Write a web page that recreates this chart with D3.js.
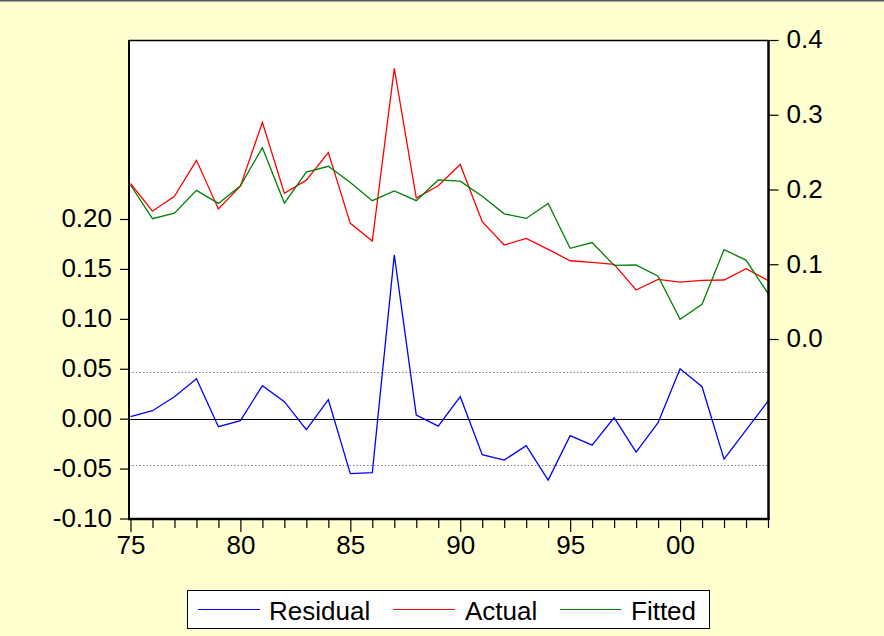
<!DOCTYPE html>
<html>
<head>
<meta charset="utf-8">
<script src="https://cdn.jsdelivr.net/npm/d3@7"></script>
<style>
  html, body { margin: 0; padding: 0; background: #FFFFD0; }
  svg { display: block; }
  text { font-family: "Liberation Sans", Arial, sans-serif; }
</style>
</head>
<body>
<svg id="chart" width="884" height="636"></svg>
<script>
// ---- Data ----
const years = d3.range(1975, 2005);
const residual = [0.002, 0.008, 0.022, 0.040, -0.008, -0.002, 0.033, 0.017, -0.011, 0.019,
                  -0.055, -0.054, 0.164, 0.0035, -0.0075, 0.022, -0.036, -0.0415, -0.027, -0.0615,
                  -0.017, -0.0265, 0.001, -0.0335, -0.004, 0.050, 0.032, -0.0405, -0.0115, 0.0175];
const actual = [0.208, 0.171, 0.191, 0.239, 0.174, 0.2045, 0.290, 0.195, 0.2125, 0.2495,
                0.1547, 0.131, 0.362, 0.1885, 0.205, 0.2335, 0.157, 0.1257, 0.1346, 0.120,
                0.1047, 0.1025, 0.0998, 0.0655, 0.0798, 0.0762, 0.0784, 0.0789, 0.094, 0.0784];
const fitted = [0.206, 0.161, 0.1684, 0.1988, 0.1814, 0.205, 0.256, 0.1818, 0.2233, 0.231,
                0.2095, 0.185, 0.198, 0.185, 0.2128, 0.2112, 0.191, 0.1675, 0.1613, 0.1813,
                0.1213, 0.129, 0.0985, 0.099, 0.084, 0.0265, 0.0464, 0.1195, 0.1056, 0.061];
const stdErr = 0.0466;
const leftTicks = [-0.10, -0.05, 0.00, 0.05, 0.10, 0.15, 0.20];
const rightTicks = [0.0, 0.1, 0.2, 0.3, 0.4];
const majorYears = [1975, 1980, 1985, 1990, 1995, 2000];
const xTickLabels = ["75", "80", "85", "90", "95", "00"];
const seriesNames = ["Residual", "Actual", "Fitted"];
const seriesColors = ["#0000FF", "#FF0000", "#008000"];

// ---- Layout ----
const svg = d3.select("#chart");
const W = 884, H = 636;
const plot = { left: 129, right: 768.5, top: 40, bottom: 519 };
const FS = 26;

svg.append("rect").attr("width", W).attr("height", H).attr("fill", "#FFFFD0");
svg.append("rect").attr("x", 0).attr("y", 0).attr("width", W).attr("height", 1).attr("fill", "#555");
svg.append("rect").attr("x", 0).attr("y", 1).attr("width", W).attr("height", 1).attr("fill", "#aaa");

const x = d3.scaleLinear().domain([1975, 2004]).range([130.5, 768]);
const yL = d3.scaleLinear().domain([-0.10, 0.20]).range([518.5, 219]);
const yR = d3.scaleLinear().domain([0.0, 0.4]).range([339, 40]);

// plot background
svg.append("rect")
  .attr("x", plot.left).attr("y", plot.top)
  .attr("width", plot.right - plot.left).attr("height", plot.bottom - plot.top)
  .attr("fill", "#FFFFFF");

// std error dotted lines and zero line
[stdErr, -stdErr].forEach(v => {
  svg.append("line")
    .attr("x1", plot.left).attr("x2", plot.right)
    .attr("y1", Math.round(yL(v)) + 0.5).attr("y2", Math.round(yL(v)) + 0.5)
    .attr("stroke", "#808080").attr("stroke-width", 1)
    .attr("stroke-dasharray", "1.5,2");
});
svg.append("line")
  .attr("x1", plot.left).attr("x2", plot.right)
  .attr("y1", Math.round(yL(0)) + 0.5).attr("y2", Math.round(yL(0)) + 0.5)
  .attr("stroke", "#000").attr("stroke-width", 1.2);

// series lines
const lineL = d3.line().x((d, i) => x(years[i])).y(d => yL(d));
const lineR = d3.line().x((d, i) => x(years[i])).y(d => yR(d));

svg.append("path").datum(actual).attr("d", lineR)
  .attr("fill", "none").attr("stroke", seriesColors[1]).attr("stroke-width", 1.3);
svg.append("path").datum(fitted).attr("d", lineR)
  .attr("fill", "none").attr("stroke", seriesColors[2]).attr("stroke-width", 1.3);
svg.append("path").datum(residual).attr("d", lineL)
  .attr("fill", "none").attr("stroke", seriesColors[0]).attr("stroke-width", 1.3);

// frame
svg.append("line").attr("x1", plot.left).attr("x2", plot.right).attr("y1", plot.top + 0.5).attr("y2", plot.top + 0.5)
  .attr("stroke", "#000").attr("stroke-width", 1.5);
svg.append("line").attr("x1", plot.left).attr("x2", plot.left).attr("y1", plot.top).attr("y2", plot.bottom + 1)
  .attr("stroke", "#000").attr("stroke-width", 2);
svg.append("line").attr("x1", plot.right).attr("x2", plot.right).attr("y1", plot.top).attr("y2", plot.bottom + 1)
  .attr("stroke", "#000").attr("stroke-width", 2.5);
svg.append("line").attr("x1", plot.left - 1).attr("x2", plot.right + 1).attr("y1", plot.bottom).attr("y2", plot.bottom)
  .attr("stroke", "#000").attr("stroke-width", 2.5);

// left axis
const axL = svg.append("g").attr("transform", `translate(${plot.left - 1},0)`)
  .call(d3.axisLeft(yL).tickValues(leftTicks).tickSize(8).tickPadding(8)
    .tickFormat(d => d.toFixed(2)));
axL.select(".domain").remove();
axL.selectAll("line").attr("stroke", "#000").attr("stroke-width", 1.2);
axL.selectAll("text").attr("font-size", FS).attr("font-family", "Liberation Sans, Arial, sans-serif")
  .attr("fill", "#000").attr("dy", "0.3em");

// right axis
const axR = svg.append("g").attr("transform", `translate(${plot.right + 1},0)`)
  .call(d3.axisRight(yR).tickValues(rightTicks).tickSize(9).tickPadding(8)
    .tickFormat(d => d.toFixed(1)));
axR.select(".domain").remove();
axR.selectAll("line").attr("stroke", "#000").attr("stroke-width", 1.2);
axR.selectAll("text").attr("font-size", FS).attr("font-family", "Liberation Sans, Arial, sans-serif")
  .attr("fill", "#000").attr("dy", "0.3em");

// bottom axis: ticks every year, labels at major years
const axB = svg.append("g").attr("transform", `translate(0,${plot.bottom + 1})`)
  .call(d3.axisBottom(x).tickValues(years).tickSize(8).tickPadding(7)
    .tickFormat(d => { const k = majorYears.indexOf(d); return k >= 0 ? xTickLabels[k] : ""; }));
axB.select(".domain").remove();
axB.selectAll(".tick line").attr("stroke", "#000").attr("stroke-width", 1.2)
  .attr("y2", d => majorYears.indexOf(d) >= 0 ? 12 : 8);
axB.selectAll("text").attr("font-size", FS).attr("font-family", "Liberation Sans, Arial, sans-serif")
  .attr("fill", "#000").attr("y", 16);

// legend
const leg = { x: 187.5, y: 590.5, w: 522, h: 38 };
svg.append("rect").attr("x", leg.x).attr("y", leg.y).attr("width", leg.w).attr("height", leg.h)
  .attr("fill", "#FFFFFF").attr("stroke", "#000").attr("stroke-width", 1);
const legItems = [
  { lx1: 198, lx2: 260, tx: 269 },
  { lx1: 393, lx2: 455, tx: 465 },
  { lx1: 560, lx2: 621, tx: 631 }
];
legItems.forEach((it, i) => {
  svg.append("line").attr("x1", it.lx1).attr("x2", it.lx2).attr("y1", 609.5).attr("y2", 609.5)
    .attr("stroke", seriesColors[i]).attr("stroke-width", 1.2);
  svg.append("text").attr("x", it.tx).attr("y", 620)
    .attr("font-size", FS).attr("fill", "#000").text(seriesNames[i]);
});
</script>
</body>
</html>
